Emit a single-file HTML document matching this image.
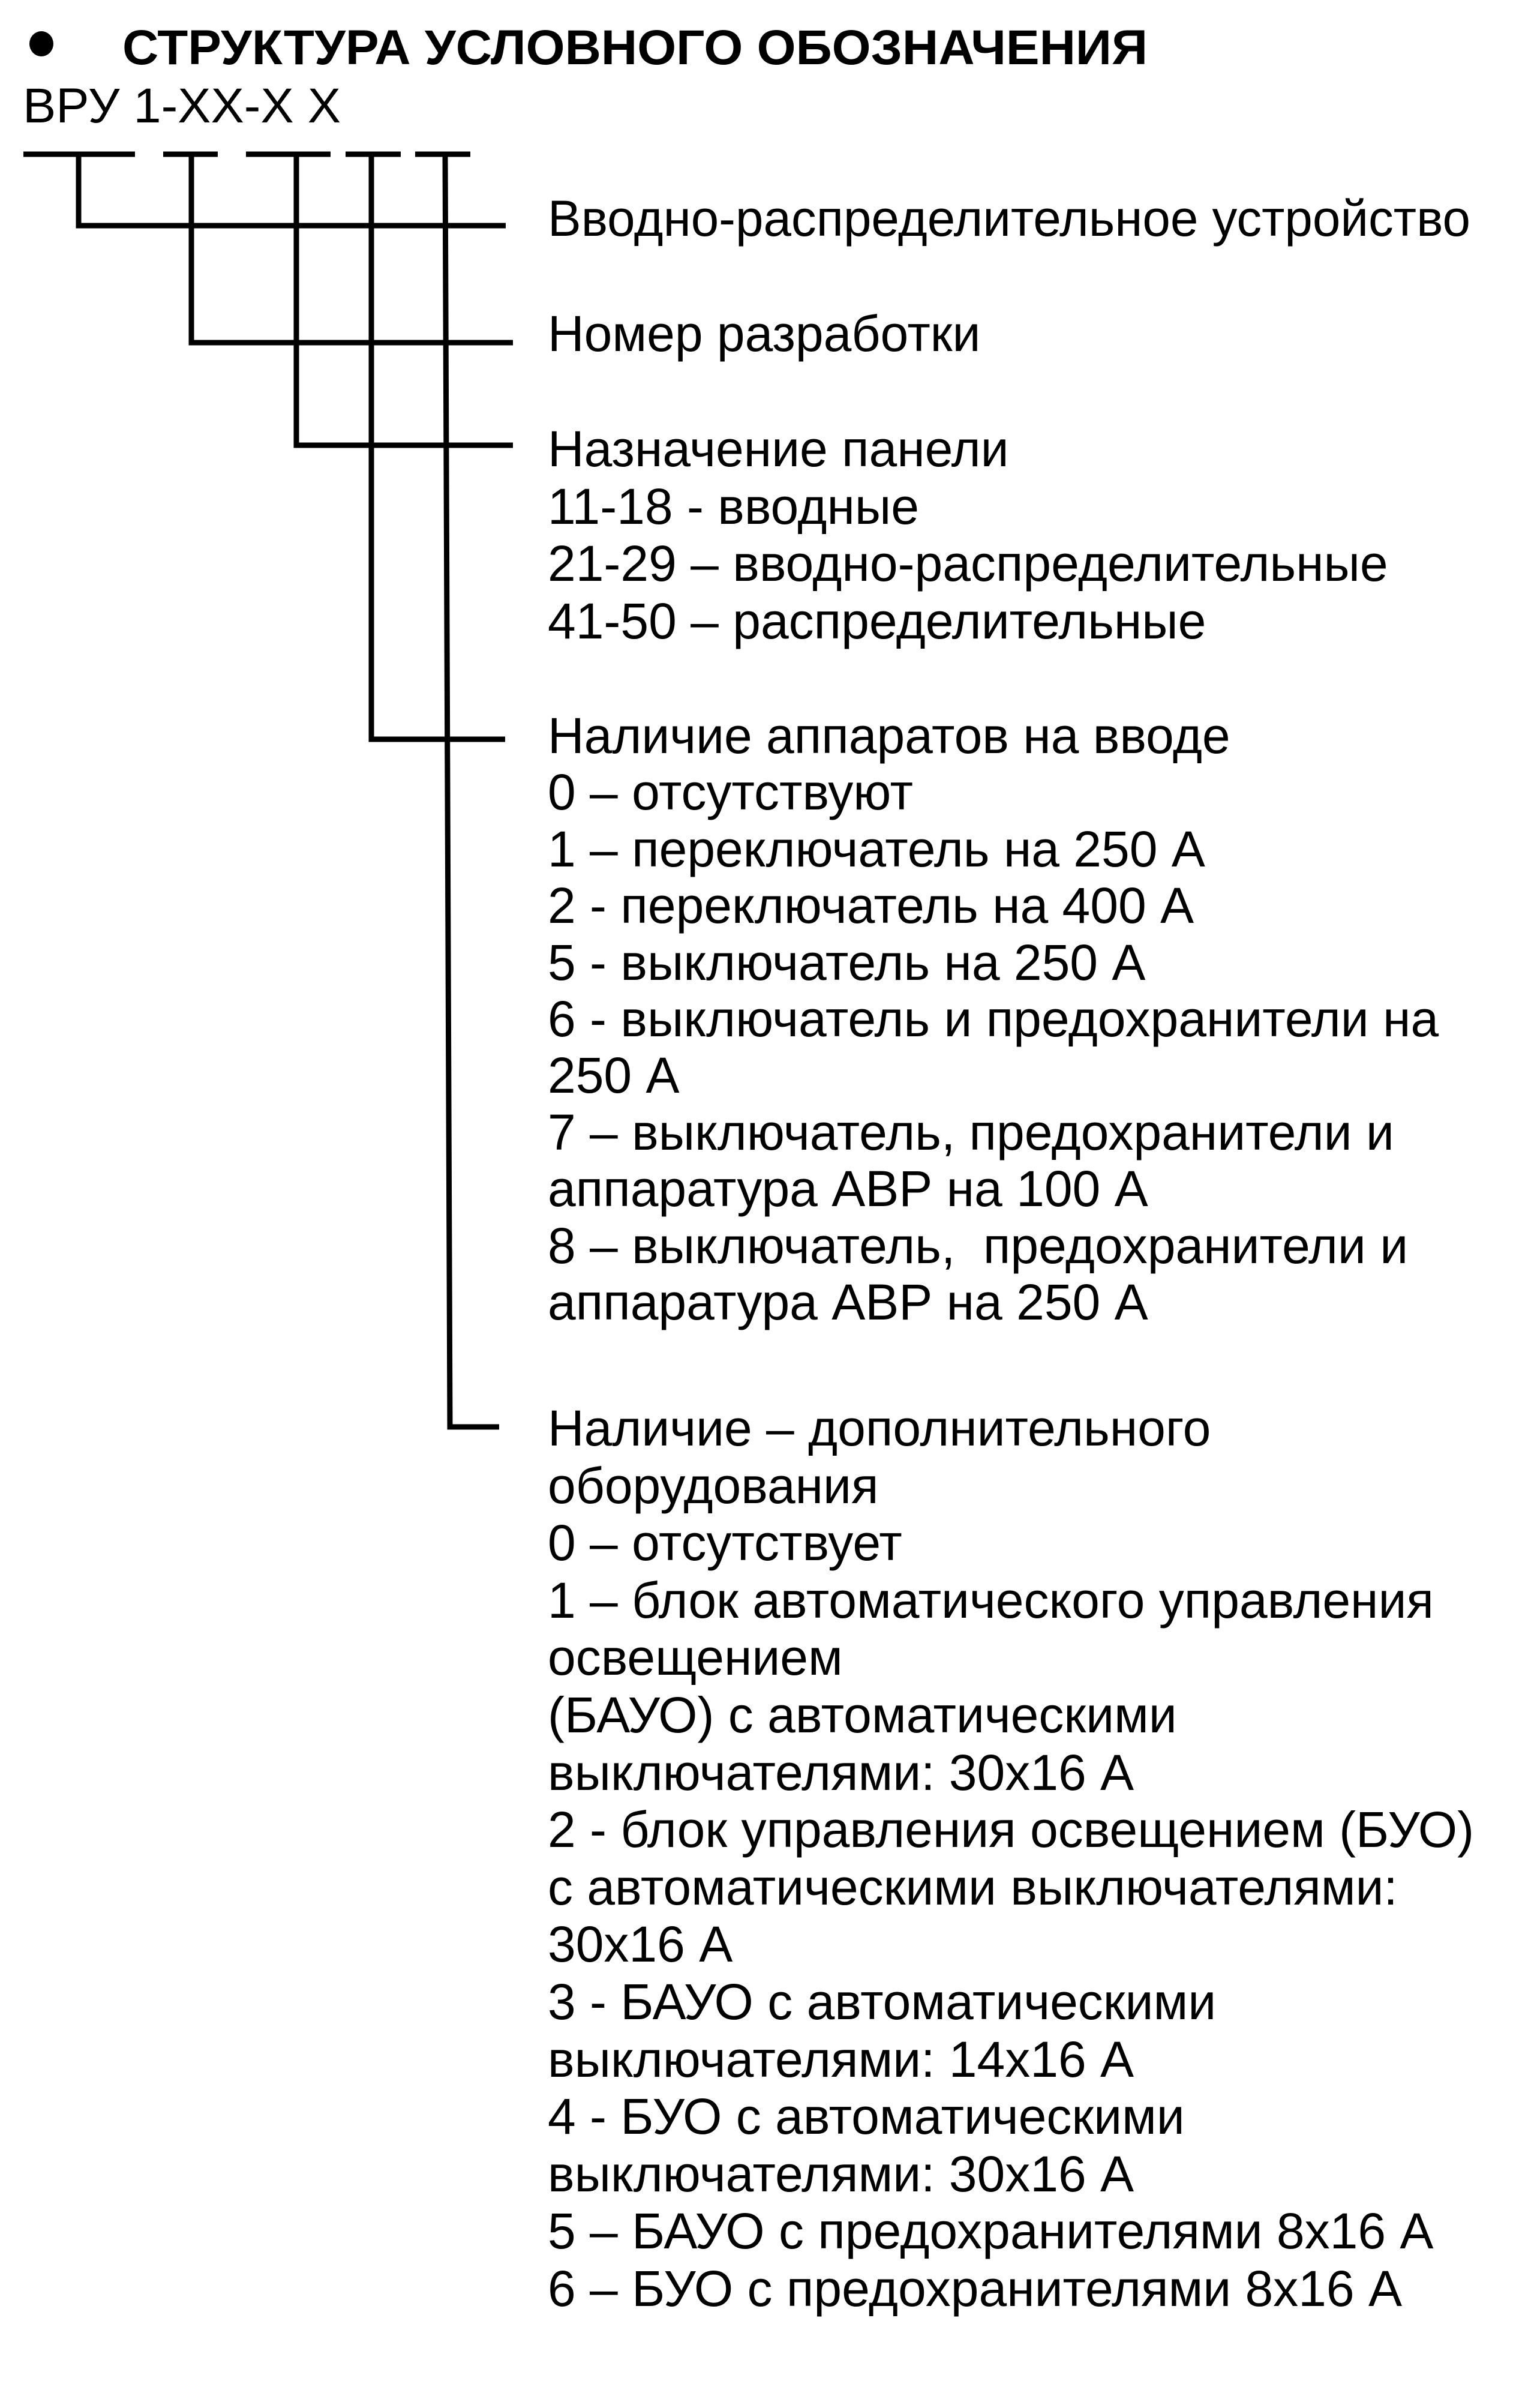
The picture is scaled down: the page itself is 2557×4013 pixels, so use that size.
<!DOCTYPE html>
<html><head><meta charset="utf-8"><style>
html,body{margin:0;padding:0;background:#fff;}
svg{display:block;}
text{font-family:"Liberation Sans","DejaVu Sans",sans-serif;fill:#000;}
</style></head><body>
<svg width="2557" height="4013" viewBox="0 0 2557 4013" xmlns="http://www.w3.org/2000/svg">
<rect width="2557" height="4013" fill="#fff"/>
<ellipse cx="69" cy="73" rx="20" ry="21" fill="#000"/>
<text x="204" y="107" font-size="82" font-weight="bold" textLength="1709" lengthAdjust="spacingAndGlyphs">СТРУКТУРА УСЛОВНОГО ОБОЗНАЧЕНИЯ</text>
<text x="38" y="204" font-size="82" textLength="530" lengthAdjust="spacingAndGlyphs">ВРУ 1-XX-X X</text>
<g stroke="#000" stroke-width="9" fill="none">
<line x1="39" y1="257" x2="225" y2="257"/>
<line x1="272" y1="257" x2="363" y2="257"/>
<line x1="410" y1="257" x2="551" y2="257"/>
<line x1="576" y1="257" x2="668" y2="257"/>
<line x1="692" y1="257" x2="784" y2="257"/>
<polyline points="131,257 131,376 843,376"/>
<polyline points="319,257 319,571 855,571"/>
<polyline points="494,257 494,742 855,742"/>
<polyline points="619,257 619,1232 842,1232"/>
<polyline points="742,257 750,2378 832,2378"/>
</g>
<g font-size="84">
<text x="913" y="393" textLength="1538" lengthAdjust="spacingAndGlyphs">Вводно-распределительное устройство</text>
<text x="913" y="585">Номер разработки</text>
<text x="913" y="777">Назначение панели</text>
<text x="913" y="873">11-18 - вводные</text>
<text x="913" y="968">21-29 – вводно-распределительные</text>
<text x="913" y="1064">41-50 – распределительные</text>
<text x="913" y="1255">Наличие аппаратов на вводе</text>
<text x="913" y="1349">0 – отсутствуют</text>
<text x="913" y="1444">1 – переключатель на 250 А</text>
<text x="913" y="1538">2 - переключатель на 400 А</text>
<text x="913" y="1633">5 - выключатель на 250 А</text>
<text x="913" y="1727">6 - выключатель и предохранители на</text>
<text x="913" y="1821">250 А</text>
<text x="913" y="1916">7 – выключатель, предохранители и</text>
<text x="913" y="2010">аппаратура АВР на 100 А</text>
<text x="913" y="2105" xml:space="preserve">8 – выключатель,  предохранители и</text>
<text x="913" y="2199">аппаратура АВР на 250 А</text>
<text x="913" y="2409">Наличие – дополнительного</text>
<text x="913" y="2505">оборудования</text>
<text x="913" y="2600">0 – отсутствует</text>
<text x="913" y="2696">1 – блок автоматического управления</text>
<text x="913" y="2791">освещением</text>
<text x="913" y="2887">(БАУО) с автоматическими</text>
<text x="913" y="2983">выключателями: 30х16 А</text>
<text x="913" y="3078">2 - блок управления освещением (БУО)</text>
<text x="913" y="3174">с автоматическими выключателями:</text>
<text x="913" y="3269">30х16 А</text>
<text x="913" y="3365">3 - БАУО с автоматическими</text>
<text x="913" y="3461">выключателями: 14х16 А</text>
<text x="913" y="3556">4 - БУО с автоматическими</text>
<text x="913" y="3652">выключателями: 30х16 А</text>
<text x="913" y="3747">5 – БАУО с предохранителями 8х16 А</text>
<text x="913" y="3843">6 – БУО с предохранителями 8х16 А</text>
</g>
</svg>
</body></html>
